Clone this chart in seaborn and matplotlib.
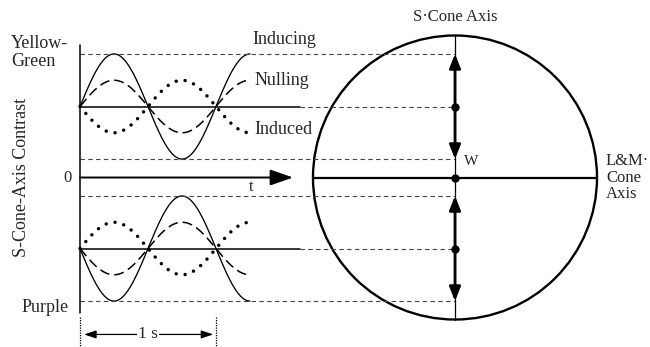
import numpy as np
import pandas as pd
import matplotlib
matplotlib.use("Agg")
import matplotlib.pyplot as plt
import seaborn as sns
from matplotlib.patches import Ellipse

# S-cone contrast of the two adapting backgrounds and the 1 Hz modulations
backgrounds = ["Yellow-Green", "Purple"]
background_level = [1.0, -1.0]
inducing_amp = [0.74, -0.74]
nulling_amp = [0.37, -0.37]
induced_amp = [-0.37, 0.37]
series_names = ["Inducing", "Nulling", "Induced"]
period_s = 1.0
duration_s = 1.25
s_axis_extent = 2.0

sns.set_theme(style="white")
plt.rcParams["font.family"] = ["Liberation Serif", "DejaVu Serif"]

fig = plt.figure(figsize=(6.5, 3.47), dpi=100)
ax = fig.add_axes([0, 0, 1, 1])
ax.set_xlim(-80 / 136, 570 / 136)
ax.set_ylim(-2.387, 2.5)
ax.axis("off")

# horizontal scale factor so the colour-space circle stays round
p0 = ax.transData.transform((0, 0))
px_x = ax.transData.transform((1, 0))[0] - p0[0]
px_y = ax.transData.transform((0, 1))[1] - p0[1]
xy_ratio = px_y / px_x

t = np.linspace(0, duration_s, 400)
phase = np.sin(2 * np.pi * t / period_s)
rows = []
for bg, lvl, a_ind, a_nul, a_idc in zip(backgrounds, background_level,
                                         inducing_amp, nulling_amp, induced_amp):
    for name, amp in zip(series_names, [a_ind, a_nul, a_idc]):
        rows.append(pd.DataFrame({"t": t, "contrast": lvl + amp * phase,
                                  "series": name, "background": bg}))
waves = pd.concat(rows, ignore_index=True)

styles = {
    "Inducing": dict(color="black", lw=0.95, ls="-"),
    "Nulling": dict(color="black", lw=1.1, ls=(0, (6.5, 3.2))),
    "Induced": dict(color="black", lw=2.5, ls=(0, (0.01, 2.6)),
                    dash_capstyle="round"),
}
for (bg, name), sub in waves.groupby(["background", "series"], sort=False):
    sns.lineplot(data=sub, x="t", y="contrast", ax=ax, sort=False,
                 estimator=None, legend=False, **styles[name])

center_x = (455 - 80) / 136
r_x = s_axis_extent * xy_ratio
baseline_end = (300 - 80) / 136

for lvl, amp in zip(background_level, inducing_amp):
    # background level: solid across the plot, dashed to the S-cone axis
    ax.plot([0, baseline_end], [lvl, lvl], color="black", lw=1.1)
    ax.plot([baseline_end, center_x], [lvl, lvl], color="#444444", lw=0.8,
            ls=(0, (4, 3)))
    for ext in (lvl + abs(amp), lvl - abs(amp)):
        ax.plot([0, center_x], [ext, ext], color="#444444", lw=0.8,
                ls=(0, (4, 3)))
        ax.annotate("", xy=(center_x, ext), xytext=(center_x, lvl),
                    arrowprops=dict(arrowstyle="-|>,head_length=0.7,head_width=0.28",
                                    mutation_scale=12, lw=2.0, color="black",
                                    shrinkA=0, shrinkB=0))
    ax.scatter([center_x], [lvl], s=36, color="black", zorder=5, linewidths=0)

# contrast axis and time axis
ax.plot([0, 0], [1.87, -1.91], color="black", lw=1.1)
ax.annotate("", xy=((293 - 80) / 136, 0), xytext=(0, 0),
            arrowprops=dict(arrowstyle="-|>,head_length=1.0,head_width=0.35",
                            mutation_scale=14, lw=1.4, color="black",
                            shrinkA=0, shrinkB=0))
ax.text((251 - 80) / 136, -0.13, "t", ha="center", va="center", fontsize=12)
ax.text(-0.095, 0, "0", ha="center", va="center", fontsize=12)

# one-period scale bar
for tx in (0, period_s):
    ax.plot([tx, tx], [-1.96, -2.387], color="black", lw=0.9, ls=(0, (1, 1)))
ax.annotate("", xy=(period_s - 0.02, -2.21), xytext=(0.03, -2.21),
            arrowprops=dict(arrowstyle="<|-|>,head_length=0.6,head_width=0.2",
                            mutation_scale=12, lw=0.9, color="black",
                            shrinkA=0, shrinkB=0))
ax.text(period_s / 2, -2.21, "1 s", ha="center", va="center", fontsize=12.5,
        bbox=dict(facecolor="white", edgecolor="none", pad=1.0))

# colour-space circle with the S-cone and L&M-cone axes
ax.add_patch(Ellipse((center_x, 0), 2 * r_x, 2 * s_axis_extent, fill=False,
                     lw=1.7, color="black"))
ax.plot([center_x - r_x, center_x + r_x], [0, 0], color="black", lw=1.6)
ax.plot([center_x, center_x], [-s_axis_extent, s_axis_extent], color="black",
        lw=0.9)
ax.scatter([center_x], [0], s=36, color="black", zorder=5, linewidths=0)

# text labels
fs = 13
ax.text(-0.508, 1.894, "Yellow-", ha="left", va="center", fontsize=fs)
ax.text(-0.508, 1.627, "Green", ha="left", va="center", fontsize=fs)
ax.text((69 - 80) / 136, -1.824, "Purple", ha="right", va="center", fontsize=fs)
ax.text(-0.43, 0.0, "S-Cone-Axis Contrast", rotation=90, ha="center",
        va="center", fontsize=fs)
ax.text((252 - 80) / 136, 1.95, "Inducing", ha="left", va="center", fontsize=fs)
ax.text((255 - 80) / 136, 1.373, "Nulling", ha="left", va="center", fontsize=fs)
ax.text((254 - 80) / 136, 0.67, "Induced", ha="left", va="center", fontsize=fs)
ax.text(center_x, 2.26, "S\u00b7Cone Axis", ha="center", va="center", fontsize=12)
ax.text((464 - 80) / 136, 0.22, "W", ha="left", va="center", fontsize=11)
ax.text((606 - 80) / 136, 0.232, "L&M\u00b7", ha="left", va="center", fontsize=12)
ax.text((606 - 80) / 136, -0.007, "Cone", ha="left", va="center", fontsize=12)
ax.text((606 - 80) / 136, -0.232, "Axis", ha="left", va="center", fontsize=12)

fig.savefig("out.png", dpi=100)
